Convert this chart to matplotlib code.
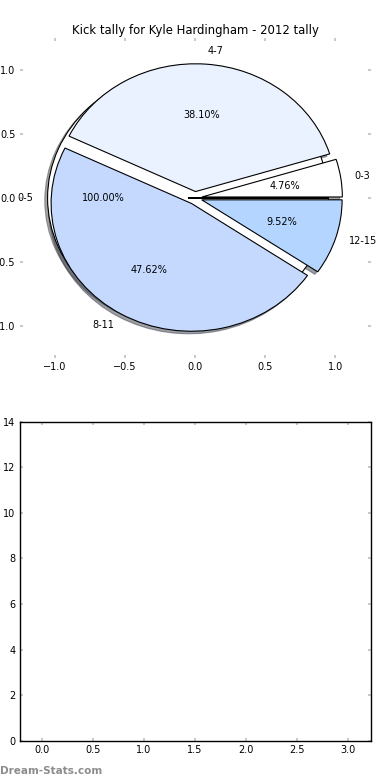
import matplotlib
matplotlib.use("Agg")
import matplotlib.pyplot as plt
import matplotlib.patches as mpatches
from matplotlib.colors import to_rgb


TITLE = "Kick tally for Kyle Hardingham - 2012 tally"
LABELS = ["0-3", "4-7", "8-11", "12-15"]
COUNTS = [1, 8, 10, 2]
COLOURS = ["#ffffff", "#eaf1ff", "#c5d9ff", "#b3d5ff"]
EXPLODE = [0.05, 0.05, 0.05, 0.05]
# stray full circle slice that sits underneath the real pie
EXTRA_LABELS = ["0-5"]
EXTRA_COUNTS = [1]
EXTRA_EXPLODE = [0.05]
PIE_TICKS = [-1.0, -0.5, 0.0, 0.5, 1.0]
BAR_XTICKS = [0.0, 0.5, 1.0, 1.5, 2.0, 2.5, 3.0]
BAR_YTICKS = [0, 2, 4, 6, 8, 10, 12, 14]
WATERMARK = "Dream-Stats.com"

TICK_GREY = "#c0c0c0"


def add_shadows(ax, wedges):
    # old style pie shadow: copy of the wedge, nudged down-left, darker
    for w in wedges:
        r, g, b = to_rgb(w.get_facecolor())
        shade = (0.3 * r, 0.3 * g, 0.3 * b, 0.5)
        cx, cy = w.center
        s = mpatches.Wedge((cx - 0.02, cy - 0.02), w.r, w.theta1, w.theta2,
                           facecolor=shade, edgecolor=shade, linewidth=0.8, zorder=0.9)
        ax.add_patch(s)


def style_ticks(ax):
    ax.tick_params(direction="in", top=True, right=True, length=2, width=1.2,
                   color=TICK_GREY, labelsize=7, pad=3)


fig, (ax_pie, ax_bar) = plt.subplots(2, 1, figsize=(3.9, 7.8), dpi=100)
fig.subplots_adjust(left=0.05, right=0.95, top=0.951, bottom=0.05, hspace=0.2)

wedge_style = {"edgecolor": "black", "linewidth": 0.8}
text_style = {"fontsize": 7}

extra_wedges, _, _ = ax_pie.pie(EXTRA_COUNTS, labels=EXTRA_LABELS, explode=EXTRA_EXPLODE,
                                colors=COLOURS[:1], autopct="%1.2f%%",
                                wedgeprops=wedge_style, textprops=text_style)
# keep the radial seam that a full circle wedge used to draw
for w in extra_wedges:
    w.set_theta2(w.theta2 - 1e-4)

wedges, _, _ = ax_pie.pie(COUNTS, labels=LABELS, explode=EXPLODE, colors=COLOURS,
                          autopct="%1.2f%%", wedgeprops=wedge_style, textprops=text_style)
add_shadows(ax_pie, extra_wedges)
add_shadows(ax_pie, wedges)

ax_pie.set_aspect("auto")
ax_pie.set_xlim(-1.25, 1.25)
ax_pie.set_ylim(-1.25, 1.25)
ax_pie.set_xticks(PIE_TICKS)
ax_pie.set_yticks(PIE_TICKS)
ax_pie.set_frame_on(False)
style_ticks(ax_pie)
ax_pie.set_title(TITLE, fontsize=8.4, pad=3)

ax_bar.set_xlim(-0.22, 3.22)
ax_bar.set_ylim(0, 14)
ax_bar.set_xticks(BAR_XTICKS)
ax_bar.set_yticks(BAR_YTICKS)
style_ticks(ax_bar)
for sp in ax_bar.spines.values():
    sp.set_linewidth(1.0)

fig.text(0.0, 0.0077, WATERMARK, fontsize=7.5, fontweight="bold", color="#8c8c8c",
         ha="left", va="baseline")

fig.savefig("out.png", dpi=100)
